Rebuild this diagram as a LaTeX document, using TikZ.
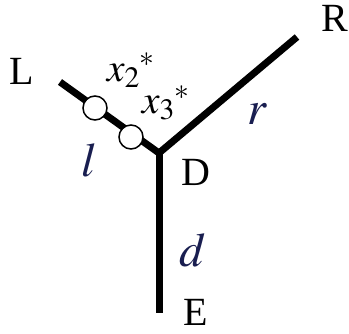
\documentclass[tikz,border=0pt]{standalone}
\usepackage{mathptmx}
\usepackage{fontspec}
\setmainfont{Liberation Serif}
\definecolor{labblue}{RGB}{25,30,80}
\tikzset{
  arm/.style={line width=7pt, line join=round},
  bead/.style={circle, draw, fill=white, line width=1.5pt, minimum size=24pt, inner sep=0pt},
  endlab/.style={font=\fontsize{40}{46}\selectfont, inner sep=0pt},
  armlab/.style={font=\fontsize{48}{54}\selectfont, text=labblue, inner sep=0pt},
  beadlab/.style={font=\fontsize{40}{46}\selectfont, inner sep=0pt}
}
\begin{document}
\begin{tikzpicture}[x=1pt,y=-1pt]
\useasboundingbox (0,0) rectangle (349,334);
\coordinate (jl) at (60,82);
\coordinate (jd) at (159,153);
\coordinate (jr) at (297,37);
\coordinate (je) at (159,313);

\draw[arm] (jl) -- (jd) -- (jr);
\draw[arm] (jd) -- (je);

\node[bead] (b2) at (95,108) {};
\node[bead] (b3) at (131,137) {};

\node[endlab] (labL) at (22,71) {L};
\node[endlab] (labR) at (335,18) {R};
\node[endlab] (labD) at (196,172) {D};
\node[endlab] (labE) at (196,312) {E};

\node[armlab] (labl) at (89,160) {$l$};
\node[armlab] (labr) at (257,114) {$r$};
\node[armlab] (labd) at (193,250) {$d$};

\node[beadlab] (lab2) at (131,70) {$x_2{}^{*}$};
\node[beadlab] (lab3) at (166,103) {$x_3{}^{*}$};
\end{tikzpicture}
\end{document}
